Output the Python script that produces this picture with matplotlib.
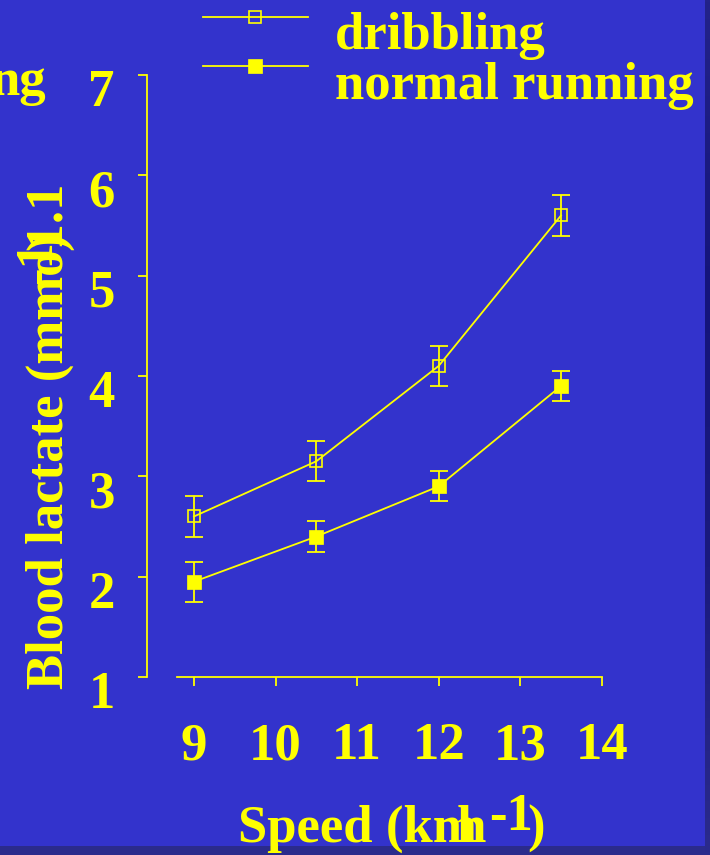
import numpy as np
import matplotlib
matplotlib.use("Agg")
import matplotlib.pyplot as plt
from matplotlib.patches import Rectangle
from matplotlib.transforms import ScaledTranslation
from matplotlib.legend_handler import HandlerLine2D

# Blood lactate vs running speed, mean ± SE
speed = [9, 10.5, 12, 13.5]
dribbling = [2.6, 3.15, 4.1, 5.6]
dribbling_err = [0.2, 0.2, 0.2, 0.2]
running = [1.95, 2.4, 2.9, 3.9]
running_err = [0.2, 0.15, 0.15, 0.15]
x_ticks = [9, 10, 11, 12, 13, 14]
y_ticks = [1, 2, 3, 4, 5, 6, 7]
series_labels = ["dribbling", "normal running"]

BG = "#3333CC"
FG = "#FFFF00"
W, H, DPI = 710, 855, 100
FS = 38

plt.rcParams["font.family"] = ["Liberation Serif", "DejaVu Serif"]
plt.rcParams["font.weight"] = "bold"


def fx(px):
    return px / W


def fy(py):
    return 1 - py / H


class RaisedLineHandler(HandlerLine2D):
    """Legend key drawn a little above the label's centre line."""

    def __init__(self, raise_pts=0.0, **kw):
        super().__init__(**kw)
        self.raise_pts = raise_pts

    def create_artists(self, legend, orig_handle, xdescent, ydescent,
                       width, height, fontsize, trans):
        artists = super().create_artists(legend, orig_handle, xdescent, ydescent,
                                         width, height, fontsize, trans)
        for a in artists:
            a.set_ydata(np.asarray(a.get_ydata(), float) + self.raise_pts)
        return artists


fig = plt.figure(figsize=(W / DPI, H / DPI), dpi=DPI, facecolor=BG)

# slide frame strips
fig.add_artist(Rectangle((0, 0), 1, fy(846), transform=fig.transFigure,
                         facecolor="#2B2B8C", edgecolor="none", zorder=0))
strip = fig.add_axes([fx(705), 0, 1 - fx(705), 1])
grad = np.linspace(0, 1, 256)[:, None]
strip.imshow(grad, aspect="auto", cmap=matplotlib.colors.LinearSegmentedColormap.from_list(
    "edge", ["#23238A", "#14147A", "#1A1A7E", "#2B2B8C"]), extent=[0, 1, 0, 1])
strip.set_axis_off()

ax = fig.add_axes([fx(176.8), fy(677), fx(601.8) - fx(176.8), fy(75) - fy(677)])
ax.set_facecolor("none")
ax.set_xlim(8.79, 14)
ax.set_ylim(1, 7)

lw = 1.3
ax.plot(speed, dribbling, color=FG, lw=lw, marker="s", ms=8.5, mfc="none",
        mec=FG, mew=1.2, label=series_labels[0], zorder=3)
ax.errorbar(speed, dribbling, yerr=dribbling_err, fmt="none", ecolor=FG,
            elinewidth=lw, capsize=6.4, capthick=lw, zorder=2)
ax.plot(speed, running, color=FG, lw=lw, marker="s", ms=9.5, mfc=FG,
        mec=FG, mew=0.5, label=series_labels[1], zorder=3)
ax.errorbar(speed, running, yerr=running_err, fmt="none", ecolor=FG,
            elinewidth=lw, capsize=6.4, capthick=lw, zorder=2)

for side in ("top", "right"):
    ax.spines[side].set_visible(False)
for side in ("left", "bottom"):
    ax.spines[side].set_color(FG)
    ax.spines[side].set_linewidth(lw)
ax.spines["left"].set_position(("outward", 21.6))

ax.set_xticks(x_ticks)
ax.set_yticks(y_ticks)
ax.set_xticklabels([str(v) for v in x_ticks])
ax.set_yticklabels([str(v) for v in y_ticks])
ax.tick_params(axis="both", direction="out", length=6.5, width=lw, color=FG,
               labelcolor=FG, labelsize=FS)
ax.tick_params(axis="y", pad=16.6)
ax.tick_params(axis="x", pad=26)
for lab in ax.get_yticklabels():
    lab.set_transform(lab.get_transform() + ScaledTranslation(0, -0.125, fig.dpi_scale_trans))

handler = RaisedLineHandler(raise_pts=10.0, numpoints=1)
leg = ax.legend(loc="upper left", bbox_to_anchor=(fx(202.7), fy(12)),
                bbox_transform=fig.transFigure, frameon=False, fontsize=FS,
                handlelength=2.0, handletextpad=0.5, borderpad=0,
                borderaxespad=0, labelspacing=0.03, numpoints=1,
                handler_map={matplotlib.lines.Line2D: handler})
for t in leg.get_texts():
    t.set_color(FG)

# cut-off text at the left edge
fig.text(fx(46), fy(95), "ng", ha="right", va="baseline", fontsize=FS, color=FG)

# x axis title with overlapping runs
tk = dict(fontsize=FS, color=FG, ha="left", va="baseline")
fig.text(fx(238), fy(842), "Speed (km", **tk)
fig.text(fx(457), fy(842), "h", **tk)
fig.text(fx(489), fy(830), "-1", **tk)
fig.text(fx(527), fy(842), ")", **tk)

# y axis title with overlapping runs
tr = dict(fontsize=FS, color=FG, ha="left", va="baseline", rotation=90,
          rotation_mode="anchor")
fig.text(fx(63), fy(689), "Blood lactate (mmo1.1", **tr)
fig.text(fx(51), fy(284), "-1", **tr)
fig.text(fx(63), fy(250), ")", **tr)

fig.savefig("out.png", dpi=DPI, facecolor=BG)
